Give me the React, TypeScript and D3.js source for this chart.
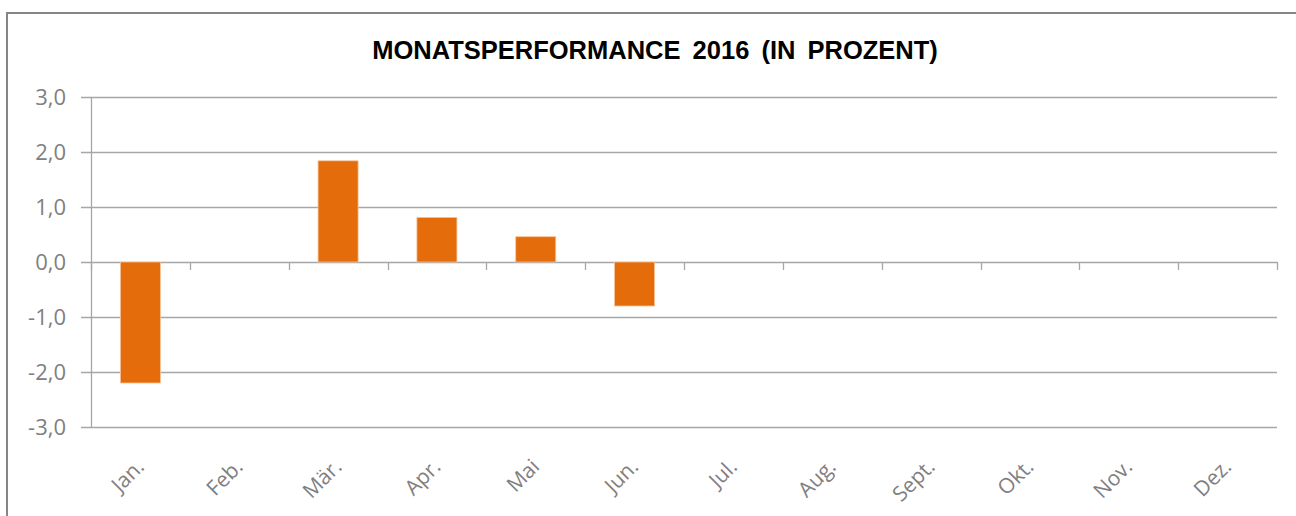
import React, { useEffect, useRef } from "react";
import * as d3 from "d3";

const months = ["Jan.", "Feb.", "Mär.", "Apr.", "Mai", "Jun.", "Jul.", "Aug.", "Sept.", "Okt.", "Nov.", "Dez."];
const performance: (number | null)[] = [-2.2, null, 1.84, 0.81, 0.46, -0.8, null, null, null, null, null, null];
const yTicks = [-3, -2, -1, 0, 1, 2, 3];
const title = "MONATSPERFORMANCE 2016 (IN PROZENT)";

const W = 1296;
const H = 516;
const margin = { left: 91, right: 19, top: 97, bottom: 89 };

export default function App() {
  const ref = useRef<SVGSVGElement>(null);

  useEffect(() => {
    const svg = d3.select(ref.current);
    svg.selectAll("*").remove();

    const x = d3.scaleBand<string>().domain(months).range([margin.left, W - margin.right]).paddingInner(0.595).paddingOuter(0.2975);
    const xb = d3.scaleBand<string>().domain(months).range([margin.left, W - margin.right]);
    const y = d3.scaleLinear().domain([-3, 3]).range([H - margin.bottom, margin.top]);

    // frame
    svg.append("rect").attr("x", 7).attr("y", 13).attr("width", W + 10).attr("height", H + 10)
      .attr("fill", "#fff").attr("stroke", "#868686").attr("stroke-width", 2);

    // title
    svg.append("text").attr("x", 655).attr("y", 59).attr("text-anchor", "middle")
      .attr("font-family", "Liberation Sans, Arial, sans-serif").attr("font-weight", "bold")
      .attr("font-size", 25.5).attr("word-spacing", 5).attr("fill", "#000").text(title);

    // gridlines
    svg.append("g").selectAll("line").data(yTicks).join("line")
      .attr("x1", margin.left - 10).attr("x2", W - margin.right)
      .attr("y1", d => Math.round(y(d)) + 0.5).attr("y2", d => Math.round(y(d)) + 0.5)
      .attr("stroke", "#a6a6a6").attr("stroke-width", 1.3);

    // y axis line
    svg.append("line").attr("x1", margin.left + 0.5).attr("x2", margin.left + 0.5)
      .attr("y1", y(3)).attr("y2", y(-3)).attr("stroke", "#a6a6a6").attr("stroke-width", 1.3);

    // y labels
    svg.append("g").selectAll("text").data(yTicks).join("text")
      .attr("x", 66).attr("y", d => y(d) + 8).attr("text-anchor", "end")
      .attr("font-family", "Open Sans, sans-serif").attr("font-size", 22).attr("fill", "#808080")
      .text(d => d3.format(".1f")(d).replace(".", ",").replace("−", "-"));

    // x ticks at category boundaries
    const bounds = months.map(m => xb(m)!).concat([W - margin.right]);
    svg.append("g").selectAll("line").data(bounds).join("line")
      .attr("x1", d => Math.round(d) + 0.5).attr("x2", d => Math.round(d) + 0.5)
      .attr("y1", y(0)).attr("y2", y(0) + 8).attr("stroke", "#a6a6a6").attr("stroke-width", 1.3);

    // bars
    const data = months.map((m, i) => ({ m, v: performance[i] })).filter(d => d.v !== null) as { m: string; v: number }[];
    svg.append("g").selectAll("rect").data(data).join("rect")
      .attr("x", d => x(d.m)!).attr("width", x.bandwidth())
      .attr("y", d => y(Math.max(0, d.v))).attr("height", d => Math.abs(y(d.v) - y(0)))
      .attr("fill", "#e46c0a").attr("stroke", "#f7c39a").attr("stroke-width", 0.8);

    // x labels
    svg.append("g").selectAll("text").data(months).join("text")
      .attr("transform", m => `translate(${xb(m)! + xb.bandwidth() / 2 + 5},${y(-3) + 41}) rotate(-45)`)
      .attr("text-anchor", "end")
      .attr("font-family", "Open Sans, sans-serif").attr("font-size", 21).attr("fill", "#808080")
      .text(m => m);
  }, []);

  return (
    <svg ref={ref} width={W} height={H} style={{ position: "absolute", left: 0, top: 0, display: "block", background: "#fff" }} />
  );
}
